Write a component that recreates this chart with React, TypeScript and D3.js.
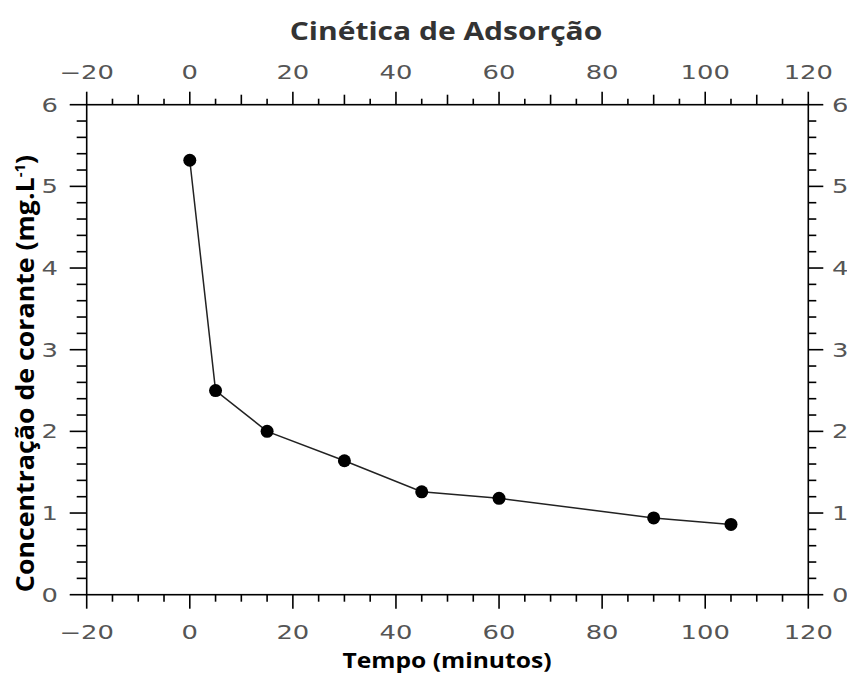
import React from "react";
import * as d3 from "d3";

const times = [0, 5, 15, 30, 45, 60, 90, 105];
const concentrations = [5.32, 2.5, 2.0, 1.64, 1.26, 1.18, 0.94, 0.86];
const xMajorTicks = [-20, 0, 20, 40, 60, 80, 100, 120];
const yMajorTicks = [0, 1, 2, 3, 4, 5, 6];
const titleText = "Cinética de Adsorção";
const xLabel = "Tempo (minutos)";

const W = 847;
const H = 675;
const left = 86.7;
const right = 808.3;
const top = 104.7;
const bottom = 594.7;

export default function App() {
  const x = d3.scaleLinear().domain([-20, 120]).range([left, right]);
  const y = d3.scaleLinear().domain([0, 6]).range([bottom, top]);
  const xMinor = d3.range(-20, 120.01, 5);
  const yMinor = d3.range(0, 6.001, 0.2);
  const line = d3
    .line<number>()
    .x((_, i) => x(times[i]))
    .y((d) => y(d));
  const fmt = (v: number) => (v < 0 ? "\u2212" + Math.abs(v) : String(v));
  const tickFont = "DejaVu Sans, sans-serif";
  const boldFont = "Open Sans, sans-serif";
  const isMajorX = (v: number) => Math.abs(v % 20) < 1e-6;
  const isTenX = (v: number) => Math.abs(v % 10) < 1e-6;
  const isMajorY = (v: number) => Math.abs(v - Math.round(v)) < 1e-6;
  const sx = 1.36;
  const tick = (key: string, tx: number, ty: number, anchor: string, label: string) => (
    <text
      key={key}
      transform={`translate(${tx},${ty}) scale(${sx},1)`}
      textAnchor={anchor}
      fontFamily={tickFont}
      fontSize={19}
      fill="#555"
    >
      {label}
    </text>
  );
  return (
    <svg
      width={W}
      height={H}
      style={{ position: "absolute", left: 0, top: 0, background: "#fff" }}
    >
      <rect x={0} y={0} width={W} height={H} fill="#fff" />
      <rect
        x={left}
        y={top}
        width={right - left}
        height={bottom - top}
        fill="none"
        stroke="#000"
        strokeWidth={1.6}
      />
      {xMinor.map((v) => (
        <line
          key={"xb" + v}
          x1={x(v)}
          x2={x(v)}
          y1={bottom}
          y2={bottom + (isMajorX(v) ? 14 : 7)}
          stroke="#000"
          strokeWidth={1.6}
        />
      ))}
      {xMinor.map((v) => (
        <line
          key={"xt" + v}
          x1={x(v)}
          x2={x(v)}
          y1={top}
          y2={top - (isMajorX(v) ? 13 : isTenX(v) ? 10 : 6)}
          stroke="#000"
          strokeWidth={1.6}
        />
      ))}
      {yMinor.map((v) => (
        <line
          key={"yl" + v}
          x1={left}
          x2={left - (isMajorY(v) ? 17 : 10)}
          y1={y(v)}
          y2={y(v)}
          stroke="#000"
          strokeWidth={1.6}
        />
      ))}
      {yMinor.map((v) => (
        <line
          key={"yr" + v}
          x1={right}
          x2={right + (isMajorY(v) ? 15 : 8)}
          y1={y(v)}
          y2={y(v)}
          stroke="#000"
          strokeWidth={1.6}
        />
      ))}
      {xMajorTicks.map((v) => tick("xt" + v, x(v), 79, "middle", fmt(v)))}
      {xMajorTicks.map((v) => tick("xb" + v, x(v), 639, "middle", fmt(v)))}
      {yMajorTicks.map((v) => tick("yl" + v, 58, y(v) + 7, "end", fmt(v)))}
      {yMajorTicks.map((v) => tick("yr" + v, 832, y(v) + 7, "start", fmt(v)))}
      <path d={line(concentrations) || ""} fill="none" stroke="#222" strokeWidth={1.5} />
      {concentrations.map((c, i) => (
        <circle key={"p" + i} cx={x(times[i])} cy={y(c)} r={6.5} fill="#000" />
      ))}
      <text
        transform="translate(446,40) scale(1.2,1)"
        textAnchor="middle"
        fontFamily={boldFont}
        fontWeight={700}
        fontSize={25}
        fill="#333"
      >
        {titleText}
      </text>
      <text
        transform="translate(447,668) scale(1.12,1)"
        textAnchor="middle"
        fontFamily={boldFont}
        fontWeight={700}
        fontSize={22}
        fill="#000"
      >
        {xLabel}
      </text>
      <text
        transform={`translate(34, 373.5) rotate(-90) scale(1.07,1)`}
        textAnchor="middle"
        fontFamily={boldFont}
        fontWeight={700}
        fontSize={25}
        fill="#000"
      >
        Concentração de corante (mg.L
        <tspan dy={-9} fontSize={14}>-1</tspan>
        <tspan dy={9}>)</tspan>
      </text>
    </svg>
  );
}
